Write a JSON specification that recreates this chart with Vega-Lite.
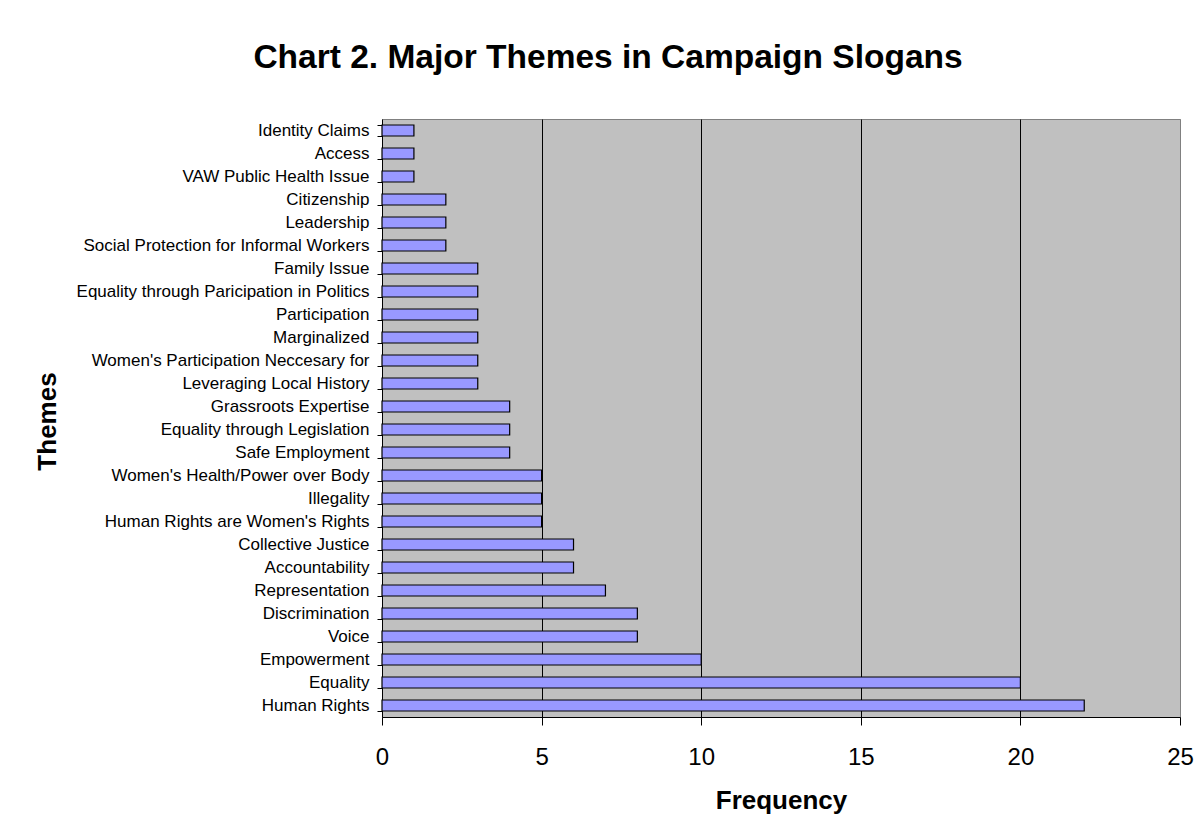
{
  "$schema": "https://vega.github.io/schema/vega-lite/v6.json",
  "autosize": {"type": "none"},
  "padding": {"left": 382, "top": 119, "right": 24, "bottom": 118},
  "width": 798,
  "height": 598,
  "background": "white",
  "title": {
    "text": "Chart 2. Major Themes in Campaign Slogans",
    "font": "Liberation Sans",
    "fontSize": 33.5,
    "fontWeight": "bold",
    "color": "black",
    "anchor": "middle",
    "frame": "group",
    "baseline": "alphabetic",
    "dx": -173,
    "offset": 9
  },
  "data": {
    "values": [
      {"theme": "Identity Claims", "frequency": 1},
      {"theme": "Access", "frequency": 1},
      {"theme": "VAW Public Health Issue", "frequency": 1},
      {"theme": "Citizenship", "frequency": 2},
      {"theme": "Leadership", "frequency": 2},
      {"theme": "Social Protection for Informal Workers", "frequency": 2},
      {"theme": "Family Issue", "frequency": 3},
      {"theme": "Equality through Paricipation in Politics", "frequency": 3},
      {"theme": "Participation", "frequency": 3},
      {"theme": "Marginalized", "frequency": 3},
      {"theme": "Women's Participation Neccesary for", "frequency": 3},
      {"theme": "Leveraging Local History", "frequency": 3},
      {"theme": "Grassroots Expertise", "frequency": 4},
      {"theme": "Equality through Legislation", "frequency": 4},
      {"theme": "Safe Employment", "frequency": 4},
      {"theme": "Women's Health/Power over Body", "frequency": 5},
      {"theme": "Illegality", "frequency": 5},
      {"theme": "Human Rights are Women's Rights", "frequency": 5},
      {"theme": "Collective Justice", "frequency": 6},
      {"theme": "Accountability", "frequency": 6},
      {"theme": "Representation", "frequency": 7},
      {"theme": "Discrimination", "frequency": 8},
      {"theme": "Voice", "frequency": 8},
      {"theme": "Empowerment", "frequency": 10},
      {"theme": "Equality", "frequency": 20},
      {"theme": "Human Rights", "frequency": 22}
    ]
  },
  "mark": {"type": "bar", "fill": "#9999FF", "stroke": "black", "strokeWidth": 1.2},
  "encoding": {
    "y": {
      "field": "theme",
      "type": "nominal",
      "sort": null,
      "title": "Themes",
      "scale": {"paddingInner": 0.52, "paddingOuter": 0.26},
      "axis": {
        "tickBand": "extent",
        "tickSize": 5,
        "tickColor": "black",
        "domainColor": "black",
        "labelFont": "Liberation Sans",
        "labelFontSize": 17,
        "labelColor": "black",
        "labelPadding": 8,
        "labelLimit": 400,
        "titleFont": "Liberation Sans",
        "titleFontSize": 26,
        "titleFontWeight": "bold",
        "titleColor": "black",
        "titleAngle": -90,
        "titleBaseline": "middle",
        "titleAlign": "center",
        "titleX": -335,
        "titleY": 302
      }
    },
    "x": {
      "field": "frequency",
      "type": "quantitative",
      "title": "Frequency",
      "scale": {"domain": [0, 25], "nice": false},
      "axis": {
        "values": [0, 5, 10, 15, 20, 25],
        "grid": true,
        "gridColor": {"condition": {"test": "datum.value == 25 || datum.value == 0", "value": "#808080"}, "value": "black"},
        "gridWidth": 1,
        "gridOpacity": 1,
        "tickSize": 8,
        "tickColor": "black",
        "domainColor": "black",
        "labelFont": "Liberation Sans",
        "labelFontSize": 24,
        "labelColor": "black",
        "labelPadding": 20,
        "labelFlush": false,
        "titleFont": "Liberation Sans",
        "titleFontSize": 26,
        "titleFontWeight": "bold",
        "titleColor": "black",
        "titleBaseline": "top",
        "titleY": 70
      }
    }
  },
  "config": {
    "view": {"fill": "#C0C0C0", "stroke": "#808080", "strokeWidth": 1}
  }
}
